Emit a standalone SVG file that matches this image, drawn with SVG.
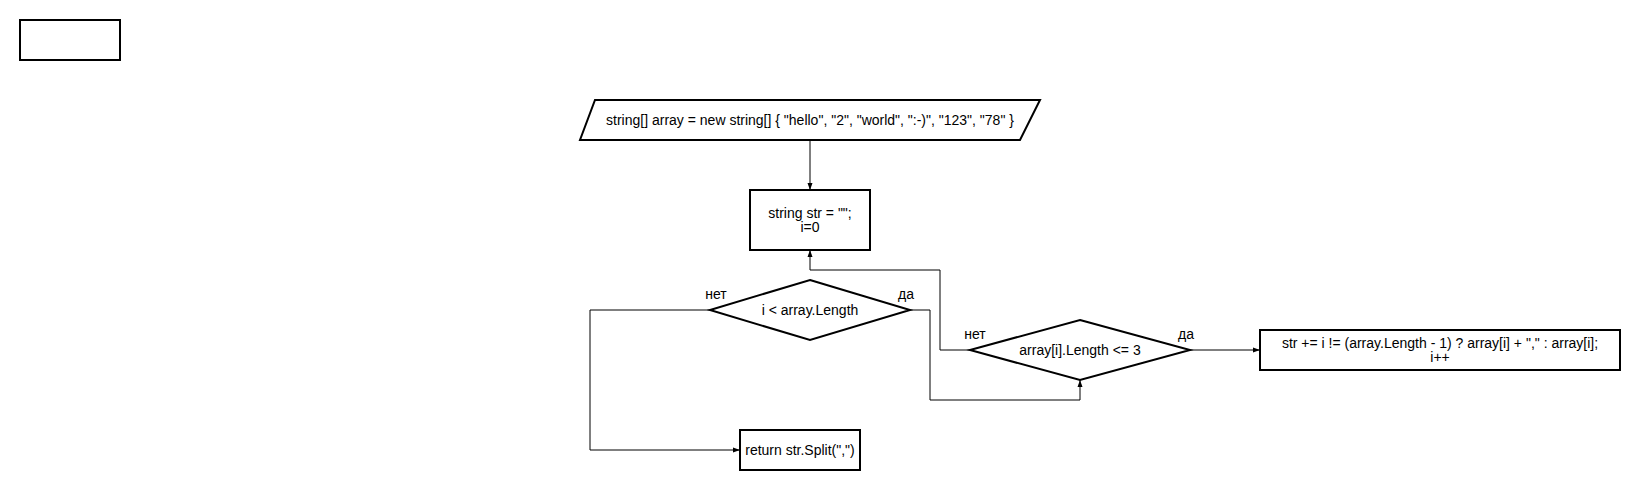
<svg xmlns="http://www.w3.org/2000/svg" width="1640" height="490" viewBox="0 0 1640 490">
<style>
  .node { fill: #ffffff; stroke: #000000; stroke-width: 2; }
  .edge { fill: none; stroke: #000000; stroke-width: 1; }
  text { font-family: "Liberation Sans", Arial, sans-serif; font-size: 14px; fill: #000000; }
  .c { text-anchor: middle; }
</style>
<defs>
  <marker id="arr" markerUnits="userSpaceOnUse" markerWidth="8" markerHeight="8" viewBox="0 0 8 8" refX="7" refY="4" orient="auto">
    <path d="M0,1.5 L7,4 L0,6.5 Z" fill="#000000"/>
  </marker>
</defs>
<rect width="1640" height="490" fill="#ffffff"/>
<g id="blank">
  <rect class="node" x="20" y="20" width="100" height="40"/>
</g>
<g id="input">
  <polygon class="node" points="595,100 1040,100 1020,140 580,140"/>
  <text class="c" x="810" y="125">string[] array = new string[] { "hello", "2", "world", ":-)", "123", "78" }</text>
</g>
<g id="init">
  <rect class="node" x="750" y="190" width="120" height="60"/>
  <text class="c" x="810" y="218">string str = "";</text>
  <text class="c" x="810" y="232">i=0</text>
</g>
<g id="cond1">
  <polygon class="node" points="810,280 910,310 810,340 710,310"/>
  <text class="c" x="810" y="315">i &lt; array.Length</text>
</g>
<g id="cond2">
  <polygon class="node" points="1080,320 1190,350 1080,380 970,350"/>
  <text class="c" x="1080" y="355">array[i].Length &lt;= 3</text>
</g>
<g id="append">
  <rect class="node" x="1260" y="330" width="360" height="40"/>
  <text class="c" x="1440" y="348">str += i != (array.Length - 1) ? array[i] + "," : array[i];</text>
  <text class="c" x="1440" y="362">i++</text>
</g>
<g id="ret">
  <rect class="node" x="740" y="430" width="120" height="40"/>
  <text class="c" x="800" y="455">return str.Split(",")</text>
</g>
<g id="connectors">
  <path class="edge" d="M810,140 L810,190" marker-end="url(#arr)"/>
  <path class="edge" d="M940,350 L940,270 L810,270 L810,250" marker-end="url(#arr)"/>
  <path class="edge" d="M970,350 L940,350"/>
  <path class="edge" d="M910,310 L930,310 L930,400 L1080,400 L1080,380" marker-end="url(#arr)"/>
  <path class="edge" d="M710,310 L590,310 L590,450 L740,450" marker-end="url(#arr)"/>
  <path class="edge" d="M1190,350 L1260,350" marker-end="url(#arr)"/>
  <text class="c" x="716" y="299">нет</text>
  <text class="c" x="906" y="299">да</text>
  <text class="c" x="975" y="339">нет</text>
  <text class="c" x="1186" y="339">да</text>
</g>
</svg>
